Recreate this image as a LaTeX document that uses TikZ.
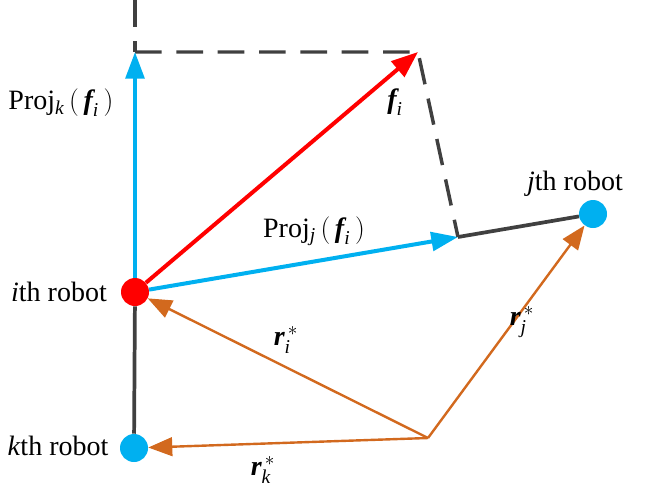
\documentclass[tikz,border=0pt]{standalone}
\usepackage{amsmath}
\usepackage{fontspec}
\setmainfont{Liberation Serif}
\usetikzlibrary{arrows.meta}
\definecolor{projblue}{RGB}{0,176,240}
\definecolor{refgold}{RGB}{210,105,30}
\definecolor{darkline}{RGB}{64,64,64}
\newcommand{\bv}[1]{\text{\bfseries\itshape #1}}
\newcommand{\sx}[1]{\text{\itshape #1}}

\begin{document}
\begin{tikzpicture}[x=0.75pt, y=-0.75pt, font=\fontsize{21}{24}\selectfont,
  robot/.style={circle, fill=#1, inner sep=0pt, minimum size=21pt},
  proj/.style={draw=projblue, line width=3pt, -{Triangle[length=20pt, width=14pt]}},
  force/.style={draw=red, line width=3pt, -{Triangle[length=20pt, width=15pt]}},
  ref/.style={draw=refgold, line width=1.8pt, -{Triangle[length=18pt, width=14pt]}},
  guide/.style={draw=darkline, line width=2.6pt, dash pattern=on 20pt off 11pt},
  link/.style={draw=darkline, line width=2.8pt}]
  \useasboundingbox (0,0) rectangle (649,496);
  % points
  \coordinate (top) at (135,0);
  \coordinate (K) at (135,52);
  \coordinate (F) at (418,52);
  \coordinate (P) at (458,237);
  \coordinate (O) at (428,438);
  % robots
  \node[robot=red] (ri) at (135,292) {};
  \node[robot=projblue] (rj) at (593,214) {};
  \node[robot=projblue] (rk) at (134,448) {};
  % dashed guides
  \draw[guide] (top) -- (K);
  \draw[guide] (K) -- (F) -- (P);
  % links
  \draw[link] (ri) -- (rk);
  \draw[link] (P) -- (rj);
  % force and projections
  \draw[proj] (ri) -- (K);
  \draw[proj] (ri) -- (P);
  \draw[force] (ri) -- (F);
  % reference vectors
  \draw[ref] (O) -- (ri);
  \draw[ref] (O) -- (rj);
  \draw[ref] (O) -- (rk);
  % labels
  \node (ni) at (59,292) {\textit{i}th robot};
  \node (nj) at (575,184) {\textit{j}th robot};
  \node (nk) at (58,446) {\textit{k}th robot};
  \node (lk) at (61,103) {Proj$_{\sx{k}}\,($\,$\bv{f}_{\sx{i}}$\,$)$};
  \node (lj) at (314,231) {Proj$_{\sx{j}}\,($\,$\bv{f}_{\sx{i}}$\,$)$};
  \node (lf) at (395,102) {$\bv{f}_{\sx{i}}$};
  \node (li) at (286,340) {$\bv{r}^{\,*}_{\sx{i}}$};
  \node (lrj) at (522,322) {$\bv{r}^{\,*}_{\sx{j}}$};
  \node (lrk) at (263,470) {$\bv{r}^{\,*}_{\sx{k}}$};
\end{tikzpicture}
\end{document}
